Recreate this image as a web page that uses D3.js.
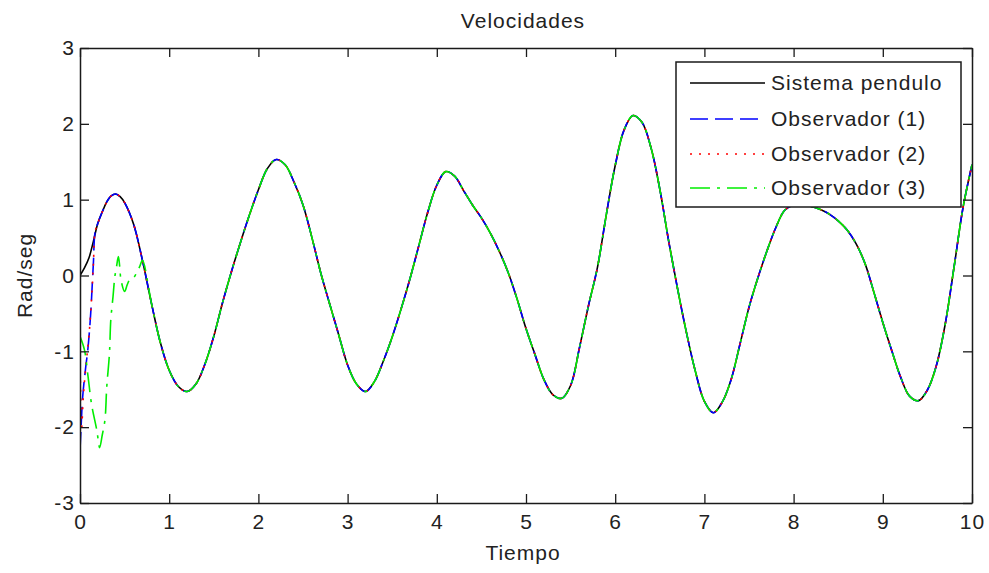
<!DOCTYPE html>
<html>
<head>
<meta charset="utf-8">
<script src="https://cdn.jsdelivr.net/npm/d3@7"></script>
<style>
  html, body { margin: 0; padding: 0; background: #fff; }
  svg { display: block; }
  text { font-family: "Liberation Sans", Arial, sans-serif; fill: #222; }
</style>
</head>
<body>
<svg id="chart" width="989" height="573"></svg>
<script>
// ---------------- DATA ----------------
const titulo = "Velocidades";
const xLabel = "Tiempo";
const yLabel = "Rad/seg";
const xTicks = [0,1,2,3,4,5,6,7,8,9,10];
const yTicks = [-3,-2,-1,0,1,2,3];
const seriesNames = ["Sistema pendulo", "Observador (1)", "Observador (2)", "Observador (3)"];

// Sistema pendulo (true velocity)
const tiempo = [0,0.05,0.1,0.15,0.2,0.25,0.3,0.35,0.4,0.45,0.5,
  0.6,0.7,0.8,0.9,1.0,1.1,1.2,1.3,1.4,1.5,1.6,1.7,1.8,1.9,2.0,
  2.1,2.2,2.3,2.4,2.5,2.6,2.7,2.8,2.9,3.0,3.1,3.2,3.3,3.4,3.5,
  3.6,3.7,3.8,3.9,4.0,4.1,4.2,4.3,4.4,4.5,4.6,4.7,4.8,4.9,5.0,
  5.1,5.2,5.3,5.4,5.5,5.6,5.7,5.8,5.9,6.0,6.1,6.2,6.3,6.4,6.5,
  6.6,6.7,6.8,6.9,7.0,7.1,7.2,7.3,7.4,7.5,7.6,7.7,7.8,7.9,8.0,
  8.1,8.2,8.3,8.4,8.5,8.6,8.7,8.8,8.9,9.0,9.1,9.2,9.3,9.4,9.5,
  9.6,9.7,9.8,9.9,10.0];
const pendulo = [0.0,0.10,0.23,0.45,0.69,0.84,0.97,1.05,1.075,1.04,0.96,
  0.68,0.20,-0.36,-0.88,-1.25,-1.46,-1.53,-1.43,-1.17,-0.80,-0.35,0.06,0.44,0.80,1.13,
  1.41,1.53,1.46,1.23,0.93,0.50,0.03,-0.38,-0.78,-1.18,-1.43,-1.53,-1.40,-1.13,-0.81,
  -0.44,-0.04,0.40,0.84,1.19,1.37,1.31,1.12,0.93,0.76,0.56,0.32,0.04,-0.31,-0.70,
  -1.04,-1.37,-1.57,-1.62,-1.45,-0.95,-0.40,0.10,0.80,1.45,1.92,2.11,2.02,1.69,1.14,
  0.45,-0.18,-0.76,-1.27,-1.66,-1.81,-1.67,-1.37,-0.90,-0.42,-0.03,0.32,0.63,0.86,0.93,
  0.93,0.91,0.87,0.81,0.72,0.60,0.42,0.16,-0.22,-0.62,-0.99,-1.34,-1.59,-1.65,-1.51,
  -1.19,-0.64,0.12,0.90,1.46];

// Observer transients (before converging to the true signal)
const obs1Tiempo = [0,0.01,0.03,0.06,0.09,0.12,0.14,0.15,0.17];
const obs1Valor  = [-2.3,-2.05,-1.6,-1.25,-0.95,-0.5,-0.06,0.16,0.58];
const obs1Union  = 0.2;

const obs2Tiempo = [0,0.008,0.016,0.04,0.07,0.1,0.13,0.15,0.17];
const obs2Valor  = [-1.15,-1.6,-2.05,-1.55,-1.15,-0.8,-0.3,0.15,0.58];
const obs2Union  = 0.2;

const obs3Tiempo = [0,0.05,0.09,0.13,0.19,0.22,0.25,0.28,0.3,0.33,0.345,0.37,0.39,0.41,0.43,0.445,0.46,0.5,0.53,0.56,0.6,0.64,0.67];
const obs3Valor  = [-0.8,-0.98,-1.33,-1.7,-2.05,-2.27,-2.1,-1.9,-1.47,-1.03,-0.59,-0.28,-0.02,0.12,0.25,0.12,-0.06,-0.21,-0.12,-0.05,-0.03,0.05,0.12];
const obs3Union  = 0.7;

// ---------------- BUILD ----------------
const truth = tiempo.map((t,i)=>({t, v: pendulo[i]}));
function observer(ts, vs, union) {
  const a = ts.map((t,i)=>({t, v: vs[i]}));
  return a.concat(truth.filter(d => d.t >= union - 1e-9));
}
const series = [
  {name: seriesNames[0], data: truth, color: "#000000", dash: null},
  {name: seriesNames[1], data: observer(obs1Tiempo, obs1Valor, obs1Union), color: "#0000ff", dash: "18,7"},
  {name: seriesNames[2], data: observer(obs2Tiempo, obs2Valor, obs2Union), color: "#ff0000", dash: "2,7"},
  {name: seriesNames[3], data: observer(obs3Tiempo, obs3Valor, obs3Union), color: "#00ee00", dash: "20,7,3,7"}
];

const svg = d3.select("#chart");
const W = 989, H = 573;
const m = {left: 80, right: W - 972, top: 48, bottom: H - 503};
const x = d3.scaleLinear().domain([0,10]).range([m.left, W - m.right]);
const y = d3.scaleLinear().domain([-3,3]).range([H - m.bottom, m.top]);

svg.append("rect").attr("x",0).attr("y",0).attr("width",W).attr("height",H).attr("fill","#fff");

svg.append("defs").append("clipPath").attr("id","clip")
  .append("rect").attr("x", x(0)).attr("y", y(3)).attr("width", x(10)-x(0)).attr("height", y(-3)-y(3));

const line = d3.line().x(d=>x(d.t)).y(d=>y(d.v)).curve(d3.curveCatmullRom.alpha(0.5));

const gLines = svg.append("g").attr("clip-path","url(#clip)");
series.forEach(s => {
  gLines.append("path").datum(s.data)
    .attr("d", line)
    .attr("fill","none")
    .attr("stroke", s.color)
    .attr("stroke-width", 1.6)
    .attr("stroke-dasharray", s.dash);
});

// axes (box with inward ticks)
const fs = 21;
const tickLen = 9;
const axisColor = "#1a1a1a";
const fmt = d => String(d);
const xAxisB = d3.axisBottom(x).tickValues(xTicks).tickSizeInner(-tickLen).tickSizeOuter(0).tickPadding(11).tickFormat(fmt);
const xAxisT = d3.axisTop(x).tickValues(xTicks).tickSizeInner(-tickLen).tickSizeOuter(0).tickFormat("");
const yAxisL = d3.axisLeft(y).tickValues(yTicks).tickSizeInner(-tickLen).tickSizeOuter(0).tickPadding(5).tickFormat(fmt);
const yAxisR = d3.axisRight(y).tickValues(yTicks).tickSizeInner(-tickLen).tickSizeOuter(0).tickFormat("");

function style(g) {
  g.selectAll("path.domain").attr("stroke", axisColor).attr("stroke-width", 1.5);
  g.selectAll(".tick line").attr("stroke", axisColor).attr("stroke-width", 1.3);
  g.selectAll("text").attr("font-size", fs).attr("fill", "#222").style("letter-spacing","1px")
    .attr("font-family", "Liberation Sans, Arial, sans-serif");
}
svg.append("g").attr("transform",`translate(0,${y(-3)})`).call(xAxisB).call(style);
svg.append("g").attr("transform",`translate(0,${y(3)})`).call(xAxisT).call(style);
svg.append("g").attr("transform",`translate(${x(0)},0)`).call(yAxisL).call(style);
svg.append("g").attr("transform",`translate(${x(10)},0)`).call(yAxisR).call(style);

// title & labels
svg.append("text").attr("x", (x(0)+x(10))/2 - 3).attr("y", 28).attr("text-anchor","middle")
  .attr("font-size", fs).style("letter-spacing","1px").text(titulo);
svg.append("text").attr("x", (x(0)+x(10))/2 - 3).attr("y", 560).attr("text-anchor","middle")
  .attr("font-size", fs).style("letter-spacing","1px").text(xLabel);
svg.append("text").attr("transform", `translate(32,${y(0)}) rotate(-90)`).attr("text-anchor","middle")
  .attr("font-size", fs).style("letter-spacing","1px").text(yLabel);

// legend
const lg = svg.append("g");
lg.append("rect").attr("x", 676).attr("y", 62).attr("width", 961-676).attr("height", 207-62)
  .attr("fill","#fff").attr("stroke", axisColor).attr("stroke-width", 1.5);
const rowY = [83, 119, 154, 188];
series.forEach((s,i) => {
  lg.append("line").attr("x1", 690).attr("x2", 765).attr("y1", rowY[i]).attr("y2", rowY[i])
    .attr("stroke", s.color).attr("stroke-width", 1.6).attr("stroke-dasharray", s.dash);
  lg.append("text").attr("x", 771).attr("y", rowY[i]).attr("dy","0.35em")
    .attr("font-size", fs).style("letter-spacing","1px").text(s.name);
});
</script>
</body>
</html>
